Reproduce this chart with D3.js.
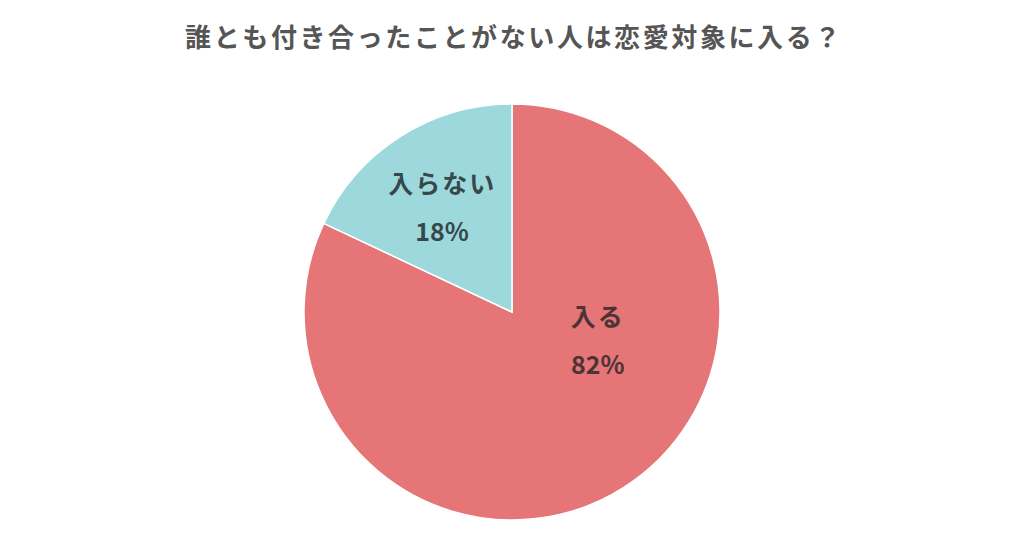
<!DOCTYPE html>
<html>
<head>
    <meta charset="utf-8">
    <script src="https://d3js.org/d3.v7.min.js"></script>
    <style>
        body { margin: 0; background: #fff; }
        text { font-family: 'Noto Sans CJK JP', 'Noto Sans', sans-serif; font-weight: bold; }
    </style>
</head>
<body>
    <svg id="chart" width="1024" height="538"></svg>
    <script>
        // data
        var title = "誰とも付き合ったことがない人は恋愛対象に入る？";
        var labels = ["入る", "入らない"];
        var values = [82, 18];
        var colors = ["#e57576", "#9dd9dc"];
        var textColors = ["#4d3434", "#36494a"];

        var width = 1024, height = 538;
        var cx = 512, cy = 312, radius = 208;

        var svg = d3.select("#chart");

        svg.append("text")
            .attr("x", width / 2 + 2)
            .attr("y", 47)
            .attr("text-anchor", "middle")
            .attr("fill", "#555")
            .style("font-size", "26px")
            .style("letter-spacing", "2.6px")
            .text(title);

        var pieData = labels.map(function (l, i) {
            return { label: l, value: values[i], color: colors[i], textColor: textColors[i] };
        });

        var pie = d3.pie().sort(null).value(d => d.value);
        var arc = d3.arc().innerRadius(0).outerRadius(radius);

        var g = svg.append("g")
            .attr("transform", "translate(" + cx + "," + cy + ")");

        var slices = pie(pieData);

        g.selectAll("path")
            .data(slices)
            .enter()
            .append("path")
            .attr("d", arc)
            .attr("fill", d => d.data.color)
            .attr("stroke", "#fff")
            .style("stroke-width", "1.5px");

        // label anchors were placed by hand in the original, so nudge the centroids
        var labelArc = d3.arc().innerRadius(radius * 0.6).outerRadius(radius * 0.6);
        var nudge = [[19, -77], [-3, 0]];

        var lbl = g.selectAll("g.lbl")
            .data(slices)
            .enter()
            .append("g")
            .attr("class", "lbl")
            .attr("transform", function (d, i) {
                var c = labelArc.centroid(d);
                return "translate(" + (c[0] + nudge[i][0]) + "," + (c[1] + nudge[i][1]) + ")";
            });

        lbl.append("text")
            .attr("text-anchor", "middle")
            .attr("y", -14)
            .attr("fill", d => d.data.textColor)
            .style("font-size", "25px")
            .style("letter-spacing", "2px")
            .text(d => d.data.label);

        lbl.append("text")
            .attr("text-anchor", "middle")
            .attr("y", 34)
            .attr("fill", d => d.data.textColor)
            .style("font-size", "25px")
            .text(d => d.data.value + "%");
    </script>
</body>
</html>
